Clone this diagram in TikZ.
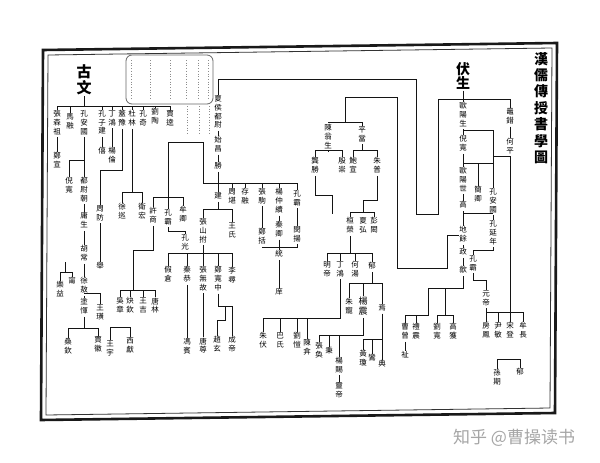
\documentclass[tikz,border=0pt]{standalone}
\usepackage{fontspec}
\newfontfamily\cjk{Noto Sans CJK TC}
\newfontfamily\wmfont{Noto Sans CJK SC}
\newcommand{\vtx}[1]{\begin{tabular}{@{}c@{}}#1\end{tabular}}
\begin{document}
\begin{tikzpicture}[x=1pt,y=-1pt,
  ln/.style={line width=0.7pt, draw=black!92},
  lab/.style={font=\cjk\fontsize{7.5}{8.3}\selectfont, inner sep=0pt, outer sep=0.6pt, anchor=north, text=black},
  labb/.style={lab, font=\cjk\fontsize{9}{10}\selectfont},
  bigch/.style={font=\cjk\bfseries\fontsize{15}{15}\selectfont, inner sep=0pt, outer sep=0.8pt, anchor=north},
  seal/.style={black!45, line width=0.7pt, dotted}]
\useasboundingbox (0,0) rectangle (600,463);
\fill[white] (0,0) rectangle (600,463);
% ---------- frame ----------
\draw[line width=2.6pt, black!90] (43,50) -- (557,43) -- (555,413) -- (41,420) -- cycle;
\draw[line width=0.8pt, black!80] (48,55) -- (552,48) -- (550,408) -- (46,415) -- cycle;
% ---------- damaged seal area ----------
\draw[line width=0.8pt, black!60, rounded corners=6pt] (126,55) rectangle (213,104);
\foreach \xx in {131,150,170,186,198,208} \draw[seal] (\xx,60) -- (\xx,100);
\foreach \xx in {187,199,209} \draw[seal] (\xx,106) -- (\xx,135);
% ---------- title ----------
\node[font=\cjk\bfseries\fontsize{14}{15}\selectfont, inner sep=0pt, anchor=north] (title) at (541,52) {\vtx{漢\\儒\\傳\\授\\書\\學\\圖}};
% ---------- 古文 ----------
\node[bigch] (gu) at (84,64) {古};
\node[bigch] (wen) at (84,80) {文};
\coordinate (gA) at (57,106); \coordinate (gB) at (170,106);
\draw[ln] (gA) -- (gB);
\draw[ln] (wen.south) -- (wen.south |- gA);
\node[lab] (g1) at (57,110) {\vtx{張\\森\\祖}};
\node[lab] (g2) at (70,113) {\vtx{馬\\融}};
\node[lab] (g3) at (84,110) {\vtx{孔\\安\\國}};
\node[lab] (g4) at (102,110) {\vtx{孔\\子\\建}};
\node[lab] (g5) at (112,110) {\vtx{丁\\鴻}};
\node[lab] (g6) at (122,110) {\vtx{蓋\\豫}};
\node[lab] (g7) at (132,110) {\vtx{杜\\林}};
\node[lab] (g8) at (143,110) {\vtx{孔\\奇}};
\node[lab] (g9) at (155,108) {\vtx{劉\\陶}};
\node[lab] (g10) at (170,110) {\vtx{賈\\逵}};
\foreach \nn in {g1,g2,g4,g5,g6,g7,g8,g9,g10} \draw[ln] (\nn.north) -- (\nn.north |- gA);
\node[lab] (g1b) at (57,152) {\vtx{鄭\\宣}};
\draw[ln] (g1.south) -- (g1b.north);
\node[lab] (g3b) at (69,177) {\vtx{倪\\寬}};
\node[lab] (g3c) at (84,177) {\vtx{都\\尉\\朝}};
\node[lab] (g3d) at (84,212) {\vtx{庸\\生}};
\node[lab] (g3e) at (84,245) {\vtx{胡\\常}};
\node[lab] (g3f) at (84,277) {\vtx{徐\\敖}};
\coordinate (g3j) at (84,160);
\draw[ln] (g3.south) -- (g3c.north);
\draw[ln] (g3j) -- (g3j -| g3b) -- (g3b.north);
\draw[ln] (g3c.south) -- (g3d.north);
\draw[ln] (g3d.south) -- (g3e.north);
\draw[ln] (g3e.south) -- (g3f.north);
% small bracket
\coordinate (lyT) at (65,262); \coordinate (lyB) at (65,272);
\node[lab] (ly1) at (60,281) {\vtx{樂\\益}};
\node[lab] (ly2) at (72,277) {\vtx{甯}};
\draw[ln] (lyT) -- (lyB);
\draw[ln] (ly1.north) -- (ly1.north |- lyB) -- (ly2.north |- lyB) -- (ly2.north);
% 徐敖 branch
\coordinate (xaB) at (84,293);
\node[lab] (tuyun) at (84,298) {\vtx{塗\\惲}};
\node[lab] (wanghuang) at (100,304) {\vtx{王\\璜}};
\draw[ln] (g3f.south) -- (tuyun.north);
\draw[ln] (xaB) -- (xaB -| wanghuang) -- (wanghuang.north);
\coordinate (tyB) at (84,328);
\node[lab] (sangqin) at (68,338) {\vtx{桑\\欽}};
\node[lab] (jiahui) at (98,336) {\vtx{賈\\徽}};
\draw[ln] (tuyun.south) -- (tyB);
\draw[ln] (sangqin.north) -- (sangqin.north |- tyB) -- (jiahui.north |- tyB) -- (jiahui.north);
\coordinate (wyB) at (110,327);
\node[lab] (wangyu) at (110,340) {\vtx{王\\宇}};
\node[lab] (xixian) at (130,337) {\vtx{西\\獻}};
\draw[ln] (wangyu.north) -- (wangyu.north |- wyB) -- (xixian.north |- wyB) -- (xixian.north);
% 孔子建, 丁鴻, 蓋豫, 杜林
\node[lab] (xi) at (102,147) {\vtx{僖}};
\draw[ln] (g4.south) -- (xi.north);
\node[lab] (yanglun) at (112,147) {\vtx{楊\\倫}};
\draw[ln] (g5.south) -- (yanglun.north);
\node[lab] (zhoufang) at (100,205) {\vtx{周\\防}};
\node[lab] (ju) at (100,262) {\vtx{舉}};
\coordinate (g6j) at (122,170);
\draw[ln] (g6.south) -- (g6j) -- (g6j -| zhoufang) -- (zhoufang.north);
\draw[ln] (zhoufang.south) -- (ju.north);
\coordinate (g7j) at (132,192);
\node[lab] (xuxun) at (122,203) {\vtx{徐\\巡}};
\node[lab] (weihong) at (142,203) {\vtx{衛\\宏}};
\draw[ln] (g7.south) -- (g7j);
\draw[ln] (xuxun.north) -- (xuxun.north |- g7j) -- (weihong.north |- g7j) -- (weihong.north);
% ---------- 夏侯 line ----------
\node[lab] (xh1) at (218,95) {\vtx{夏\\侯\\都\\尉}};
\node[lab] (xh2) at (218,136) {\vtx{始\\昌}};
\node[lab] (xh3) at (218,162) {\vtx{勝}};
\node[lab] (xh4) at (218,192) {\vtx{建}};
\draw[ln] (xh1.south) -- (xh2.north);
\draw[ln] (xh2.south) -- (xh3.north);
\draw[ln] (xh3.south) -- (xh4.north);
\coordinate (sA) at (203,183); \coordinate (sB) at (297,183);
\draw[ln] (sA) -- (sB);
\node[lab] (c1) at (232,188) {\vtx{周\\堪}};
\node[lab] (c2) at (245,188) {\vtx{存\\融}};
\node[lab] (c3) at (262,188) {\vtx{張\\駒}};
\node[lab] (c4) at (279,188) {\vtx{楊\\仲\\續}};
\node[lab] (c5) at (297,190) {\vtx{孔\\霸}};
\foreach \nn in {c1,c2,c3,c4,c5} \draw[ln] (\nn.north) -- (\nn.north |- sA);
\coordinate (lk1) at (203,142); \coordinate (lk2) at (168,142);
\coordinate (xsA) at (153,197); \coordinate (xsB) at (183,197);
\draw[ln] (sA) -- (lk1) -- (lk2) -- (lk2 |- xsA);
\draw[ln] (xsA) -- (xsB);
\node[lab] (xushang) at (153,207) {\vtx{許\\商}};
\node[lab] (kongba2) at (168,209) {\vtx{孔\\霸}};
\node[lab] (mouqing) at (183,206) {\vtx{牟\\卿}};
\foreach \nn in {xushang,kongba2,mouqing} \draw[ln] (\nn.north) -- (\nn.north |- xsA);
\node[lab] (kongguang) at (185,234) {\vtx{孔\\光}};
\coordinate (kgj) at (168,231);
\draw[ln] (kongba2.south) -- (kgj) -- (kgj -| kongguang) -- (kongguang.north);
\coordinate (xs1) at (153,250); \coordinate (xs2) at (133,250); \coordinate (xsC) at (133,290);
\draw[ln] (xushang.south) -- (xs1) -- (xs2) -- (xsC);
\node[lab] (wuzhang) at (120,297) {\vtx{吳\\章}};
\node[lab] (guiqin) at (130,297) {\vtx{炔\\欽}};
\node[lab] (wangji) at (143,297) {\vtx{王\\吉}};
\node[lab] (tanglin) at (155,297) {\vtx{唐\\林}};
\draw[ln] (wuzhang.north |- xsC) -- (tanglin.north |- xsC);
\foreach \nn in {wuzhang,guiqin,wangji,tanglin} \draw[ln] (\nn.north) -- (\nn.north |- xsC);
% 建 branch
\coordinate (jj) at (218,209);
\node[lab] (zsf) at (203,218) {\vtx{張\\山\\拊}};
\node[lab] (wangshi) at (232,222) {\vtx{王\\氏}};
\draw[ln] (xh4.south) -- (jj);
\draw[ln] (zsf.north) -- (zsf.north |- jj) -- (wangshi.north |- jj) -- (wangshi.north);
\coordinate (zsA) at (168,253); \coordinate (zsB) at (232,253);
\draw[ln] (zsf.south) -- (zsf.south |- zsA);
\draw[ln] (zsA) -- (zsB);
\node[lab] (jiacang) at (168,266) {\vtx{假\\倉}};
\node[lab] (qingong) at (187,266) {\vtx{秦\\恭}};
\node[lab] (zwg) at (203,266) {\vtx{張\\無\\故}};
\node[lab] (zkz) at (218,266) {\vtx{鄭\\寬\\中}};
\node[lab] (lixun) at (232,267) {\vtx{李\\尋}};
\foreach \nn in {jiacang,qingong,zwg,zkz,lixun} \draw[ln] (\nn.north) -- (\nn.north |- zsA);
\node[lab] (fengbin) at (187,338) {\vtx{馮\\賓}};
\node[lab] (tangzun) at (203,337) {\vtx{唐\\尊}};
\draw[ln] (qingong.south) -- (fengbin.north);
\draw[ln] (zwg.south) -- (tangzun.north);
\coordinate (zk1) at (218,306); \coordinate (zk2) at (225,306); \coordinate (zk3) at (225,320);
\node[lab] (chengdi) at (232,336) {\vtx{成\\帝}};
\node[lab] (zhaoxuan) at (217,336) {\vtx{趙\\玄}};
\draw[ln] (zkz.south) -- (zk1) -- (zk1 -| chengdi) -- (chengdi.north);
\draw[ln] (zk2) -- (zk3) -- (zk3 -| zhaoxuan) -- (zhaoxuan.north);
% converging bracket
\node[lab] (zhengkuo) at (262,228) {\vtx{鄭\\括}};
\node[lab] (qinqing) at (279,221) {\vtx{秦\\卿}};
\node[lab] (minyang) at (297,226) {\vtx{閔\\揚}};
\draw[ln] (c3.south) -- (zhengkuo.north);
\draw[ln] (c4.south) -- (qinqing.north);
\draw[ln] (c5.south) -- (minyang.north);
\coordinate (tgA) at (262,247); \coordinate (tgB) at (297,247);
\draw[ln] (zhengkuo.south) -- (tgA) -- (tgB) -- (minyang.south);
\node[lab] (tong) at (279,250) {\vtx{統}};
\node[lab] (xiang) at (279,288) {\vtx{庠}};
\draw[ln] (qinqing.south) -- (tong.north);
\draw[ln] (tong.south) -- (xiang.north);
% ---------- 伏生 ----------
\node[bigch, font=\cjk\bfseries\fontsize{14}{14}\selectfont] (fu) at (463,62) {伏};
\node[bigch, font=\cjk\bfseries\fontsize{14}{14}\selectfont] (sheng) at (463,76) {生};
\coordinate (fA) at (438,99); \coordinate (fB) at (510,99);
\coordinate (u1) at (438,214); \coordinate (u2) at (416,214); \coordinate (u3) at (416,79);
\draw[ln] (sheng.south) -- (sheng.south |- fA);
\draw[ln] (fB) -- (fA) -- (u1) -- (u2) -- (u3) -- (u3 -| xh1) -- (xh1.north);
\node[lab] (oy1) at (463,102) {\vtx{歐\\陽\\生}};
\node[lab] (nk) at (463,135) {\vtx{倪\\寬}};
\node[lab] (oy2) at (463,167) {\vtx{歐\\陽\\世}};
\node[lab] (gao) at (463,201) {\vtx{高}};
\node[lab] (dy) at (463,226) {\vtx{地\\餘}};
\node[lab] (zheng) at (463,248) {\vtx{政}};
\node[lab] (she) at (463,266) {\vtx{歙}};
\draw[ln] (sheng.south |- fA) -- (oy1.north);
\draw[ln] (oy1.south) -- (nk.north);
\draw[ln] (nk.south) -- (oy2.north);
\draw[ln] (oy2.south) -- (gao.north);
\draw[ln] (gao.south) -- (dy.north);
\draw[ln] (dy.south) -- (zheng.north);
\draw[ln] (zheng.south) -- (she.north);
\coordinate (ka1) at (463,130);
\node[lab] (kag) at (493,188) {\vtx{孔\\安\\國}};
\draw[ln] (ka1) -- (ka1 -| kag) -- (kag.north);
\coordinate (jq1) at (463,163);
\node[lab] (jq) at (478,186) {\vtx{簡\\卿}};
\draw[ln] (jq1) -- (jq1 -| kag);
\draw[ln] (jq.north) -- (jq.north |- jq1);
\coordinate (g1j) at (463,213);
\node[lab] (kyn) at (493,220) {\vtx{孔\\延\\年}};
\draw[ln] (g1j) -- (g1j -| kyn);
\draw[ln] (kag.south) -- (kyn.north);
\coordinate (kb1) at (493,250);
\node[lab] (kb3) at (473,255) {\vtx{孔\\霸}};
\draw[ln] (kyn.south) -- (kb1) -- (kb1 -| kb3) -- (kb3.north);
\coordinate (yd1) at (473,280);
\node[lab] (yd) at (486,290) {\vtx{元\\帝}};
\draw[ln] (kb3.south) -- (yd1) -- (yd1 -| yd) -- (yd.north);
\coordinate (rA) at (486,312); \coordinate (rB) at (523,312);
\draw[ln] (yd.south) -- (rA) -- (rB);
\node[lab] (fangfeng) at (486,322) {\vtx{房\\鳳}};
\node[lab] (yinmin) at (498,322) {\vtx{尹\\敏}};
\node[lab] (songdeng) at (510,322) {\vtx{宋\\登}};
\node[lab] (mouchang) at (523,322) {\vtx{牟\\長}};
\foreach \nn in {fangfeng,yinmin,songdeng,mouchang} \draw[ln] (\nn.north) -- (\nn.north |- rA);
\node[lab] (chaocuo) at (510,108) {\vtx{鼂\\錯}};
\node[lab] (heping) at (510,138) {\vtx{何\\平}};
\draw[ln] (fB) -- (chaocuo.north);
\draw[ln] (chaocuo.south) -- (heping.north);
\coordinate (hp1) at (510,156);
\draw[ln] (heping.south) -- (heping.south |- rA);
\draw[ln] (hp1) -- (hp1 -| kag);
% 地餘 left branch
\coordinate (d1) at (447,234); \coordinate (d2) at (447,268); \coordinate (d3) at (397,268);
\coordinate (d4) at (397,97); \coordinate (d5) at (345,97); \coordinate (d6) at (345,122);
\draw[ln] (dy.west) -- (dy.west -| d1) -- (d2) -- (d3) -- (d4) -- (d5) -- (d6);
\coordinate (cwA) at (328,122); \coordinate (cwB) at (362,122);
\draw[ln] (cwA) -- (cwB);
\node[lab] (cws) at (328,124) {\vtx{陳\\翁\\生}};
\node[lab] (pd) at (362,126) {\vtx{平\\當}};
\draw[ln] (pd.north) -- (pd.north |- cwB);
\coordinate (cw1) at (328,150); \coordinate (pd1) at (362,150);
\node[lab] (gongsheng) at (315,157) {\vtx{龔\\勝}};
\node[lab] (yinchong) at (342,157) {\vtx{殷\\崇}};
\node[lab] (baoxuan) at (353,157) {\vtx{鮑\\宣}};
\node[lab] (zhupu) at (377,157) {\vtx{朱\\普}};
\draw[ln] (cws.south) -- (cw1);
\draw[ln] (gongsheng.north) -- (gongsheng.north |- cw1) -- (yinchong.north |- cw1) -- (yinchong.north);
\draw[ln] (pd.south) -- (pd1);
\draw[ln] (baoxuan.north) -- (baoxuan.north |- pd1) -- (zhupu.north |- pd1) -- (zhupu.north);
\coordinate (gs1) at (315,195); \coordinate (gs2) at (332,195); \coordinate (gs3) at (332,214);
\draw[ln] (gongsheng.south) -- (gs1) -- (gs2) -- (gs3);
\coordinate (zp1) at (377,200); \coordinate (zp2) at (363,200); \coordinate (zp3) at (363,212);
\node[lab] (huanrong) at (350,217) {\vtx{桓\\榮}};
\node[lab] (xiahong) at (363,217) {\vtx{夏\\弘}};
\node[lab] (penghong) at (374,217) {\vtx{彭\\閎}};
\draw[ln] (zhupu.south) -- (zp1) -- (zp2) -- (zp3);
\draw[ln] (huanrong.north) -- (huanrong.north |- zp3) -- (penghong.north |- zp3) -- (penghong.north);
\coordinate (hr1) at (350,253);
\node[lab] (mingdi) at (327,261) {\vtx{明\\帝}};
\node[lab] (dinghong2) at (340,261) {\vtx{丁\\鴻}};
\node[lab] (hetang) at (355,261) {\vtx{何\\湯}};
\node[lab] (yu) at (372,262) {\vtx{郁}};
\draw[ln] (huanrong.south) -- (hr1);
\draw[ln] (mingdi.north |- hr1) -- (yu.north |- hr1);
\foreach \nn in {mingdi,dinghong2,hetang,yu} \draw[ln] (\nn.north) -- (\nn.north |- hr1);
\coordinate (yu1) at (372,283);
\node[lab] (zhuchong) at (349,298) {\vtx{朱\\寵}};
\node[labb] (yangzhen) at (363,296) {\vtx{楊\\震}};
\node[lab] (yan) at (382,304) {\vtx{焉}};
\draw[ln] (yu.south) -- (yu1);
\draw[ln] (zhuchong.north |- yu1) -- (yan.north |- yu1);
\foreach \nn in {zhuchong,yangzhen,yan} \draw[ln] (\nn.north) -- (\nn.north |- yu1);
\coordinate (dh1) at (340,318);
\node[lab] (zhufu) at (263,332) {\vtx{朱\\伏}};
\node[lab] (bashi) at (280,332) {\vtx{巴\\氏}};
\node[lab] (liukai) at (297,332) {\vtx{劉\\愷}};
\node[lab] (chenyan) at (307,339) {\vtx{陳\\弇}};
\draw[ln] (dinghong2.south) -- (dh1) -- (dh1 -| zhufu);
\foreach \nn in {zhufu,bashi,liukai,chenyan} \draw[ln] (\nn.north) -- (\nn.north |- dh1);
\coordinate (yz1) at (363,335);
\node[lab] (zhanghuan) at (319,342) {\vtx{張\\奐}};
\node[lab] (bing) at (329,347) {\vtx{秉}};
\node[lab] (yangci) at (339,357) {\vtx{楊\\賜}};
\node[lab] (lingdi) at (339,382) {\vtx{靈\\帝}};
\draw[ln] (yangzhen.south) -- (yz1) -- (yz1 -| zhanghuan);
\foreach \nn in {zhanghuan,bing,yangci} \draw[ln] (\nn.north) -- (\nn.north |- yz1);
\draw[ln] (yangci.south) -- (lingdi.north);
\coordinate (yn1) at (382,339);
\node[lab] (huangqiong) at (363,350) {\vtx{黃\\瓊}};
\node[lab] (luan) at (372,354) {\vtx{鸞}};
\node[lab] (dian) at (382,360) {\vtx{典}};
\draw[ln] (yan.south) -- (yn1) -- (yn1 -| huangqiong);
\foreach \nn in {huangqiong,luan,dian} \draw[ln] (\nn.north) -- (\nn.north |- yn1);
% 歙 branch
\coordinate (sh1) at (463,288); \coordinate (sh2) at (428,288); \coordinate (sh3) at (428,315);
\coordinate (sh4) at (445,288); \coordinate (sh5) at (445,315);
\node[lab] (caozeng) at (405,323) {\vtx{曹\\曾}};
\node[lab] (lizhen) at (416,323) {\vtx{禮\\震}};
\node[lab] (liukuan) at (437,323) {\vtx{劉\\寬}};
\node[lab] (gaohuo) at (453,323) {\vtx{高\\獲}};
\node[lab] (zhi) at (405,351) {\vtx{祉}};
\draw[ln] (she.south) -- (sh1) -- (sh2) -- (sh3) -- (sh3 -| caozeng) -- (caozeng.north);
\draw[ln] (lizhen.north) -- (lizhen.north |- sh3);
\draw[ln] (sh4) -- (sh5);
\draw[ln] (liukuan.north) -- (liukuan.north |- sh5) -- (gaohuo.north |- sh5) -- (gaohuo.north);
\draw[ln] (caozeng.south) -- (zhi.north);
% bottom right bracket
\coordinate (bb) at (497,359);
\node[lab] (sunqi) at (497,369) {\vtx{孫\\期}};
\node[lab] (yu2) at (520,368) {\vtx{郁}};
\draw[ln] (sunqi.north) -- (bb) -- (bb -| yu2) -- (yu2.north);
% ---------- watermark ----------
\node[font=\wmfont\fontsize{17}{17}\selectfont, text=black!35, inner sep=0pt, anchor=west] (wm) at (453,438) {知乎 @曹操读书};
\end{tikzpicture}
\end{document}
